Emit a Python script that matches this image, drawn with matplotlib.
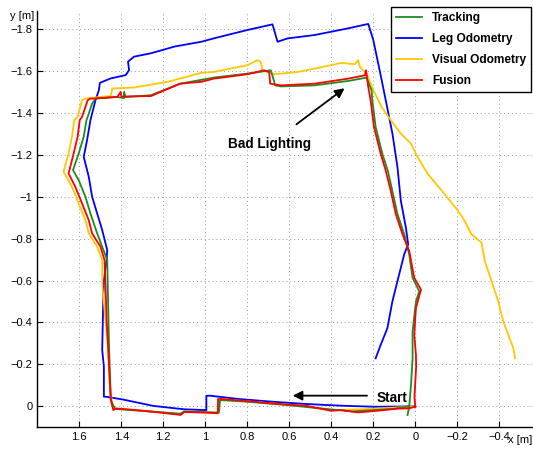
import matplotlib
matplotlib.use("Agg")
import matplotlib.pyplot as plt

plt.rcParams['font.family'] = ['Liberation Sans', 'DejaVu Sans']

# trajectories (x, y in metres)
fusion_x = [0.0, 0.029, 0.086, 0.181, 0.274, 0.354, 0.402, 0.516, 0.679, 0.809, 0.922, 0.939, 0.941, 1.004, 1.101,
            1.117, 1.247, 1.329, 1.426, 1.438, 1.45, 1.462, 1.47, 1.475, 1.48, 1.499, 1.539, 1.555, 1.587, 1.619,
            1.651, 1.627, 1.608, 1.598, 1.587, 1.56, 1.55, 1.419, 1.403, 1.40, 1.259, 1.12, 1.019, 0.96, 0.8, 0.72,
            0.696, 0.691, 0.64, 0.48, 0.32, 0.24, 0.235, 0.224, 0.213, 0.197, 0.165, 0.141, 0.117, 0.093, 0.061,
            0.029, 0.005, -0.027, -0.003, 0.005, -0.003, -0.004, 0.004, 0.0]
fusion_y = [0.0, 0.010, 0.011, 0.021, 0.029, 0.018, 0.021, -0.002, -0.014, -0.026, -0.035, -0.035, 0.033, 0.030,
            0.027, 0.041, 0.026, 0.018, 0.010, 0.018, -0.03, -0.269, -0.41, -0.57, -0.698, -0.761, -0.825, -0.888,
            -0.968, -1.047, -1.111, -1.206, -1.286, -1.365, -1.381, -1.46, -1.467, -1.476, -1.50, -1.478, -1.48,
            -1.539, -1.548, -1.563, -1.584, -1.603, -1.595, -1.539, -1.531, -1.539, -1.563, -1.579, -1.603, -1.523,
            -1.461, -1.333, -1.205, -1.125, -1.029, -0.917, -0.821, -0.741, -0.613, -0.557, -0.469, -0.341, -0.245,
            -0.19, -0.046, 0.005]

tracking_x = [0.03, 0.1, 0.3, 0.45, 0.6, 0.8, 0.93, 0.935, 1.1, 1.12, 1.3, 1.43, 1.45, 1.458, 1.462, 1.467, 1.491,
              1.515, 1.547, 1.571, 1.603, 1.63, 1.603, 1.579, 1.566, 1.56, 1.539, 1.523, 1.419, 1.387, 1.387, 1.38,
              1.259, 1.12, 0.96, 0.8, 0.688, 0.667, 0.64, 0.48, 0.32, 0.232, 0.208, 0.205, 0.189, 0.157, 0.13,
              0.11, 0.085, 0.053, 0.029, 0.013, -0.019, -0.003, 0.013, 0.013, 0.02, 0.029, 0.037]
tracking_y = [0.0, 0.012, 0.024, 0.01, -0.005, -0.022, -0.03, 0.03, 0.024, 0.035, 0.022, 0.012, -0.03, -0.27,
              -0.45, -0.698, -0.761, -0.825, -0.92, -1.0, -1.079, -1.127, -1.206, -1.286, -1.365, -1.381, -1.444,
              -1.468, -1.476, -1.47, -1.50, -1.475, -1.484, -1.539, -1.568, -1.587, -1.603, -1.531, -1.526, -1.531,
              -1.552, -1.568, -1.507, -1.461, -1.333, -1.205, -1.12, -1.03, -0.917, -0.821, -0.725, -0.613, -0.549,
              -0.5, -0.357, -0.229, -0.11, 0.002, 0.041]

visual_x = [0.0, 0.2, 0.4, 0.52, 0.7, 0.85, 0.93, 0.94, 1.1, 1.12, 1.3, 1.44, 1.455, 1.465, 1.49, 1.491, 1.515,
            1.555, 1.571, 1.603, 1.635, 1.675, 1.651, 1.635, 1.624, 1.608, 1.587, 1.571, 1.499, 1.45, 1.443, 1.339,
            1.179, 1.019, 0.96, 0.8, 0.752, 0.736, 0.728, 0.672, 0.56, 0.48, 0.352, 0.288, 0.272, 0.264, 0.232,
            0.192, 0.16, 0.117, 0.069, 0.021, -0.011, -0.059, -0.099, -0.139, -0.203, -0.235, -0.267, -0.315,
            -0.331, -0.363, -0.395, -0.419, -0.443, -0.467, -0.475]
visual_y = [0.0, 0.012, 0.018, 0.0, -0.015, -0.028, -0.035, 0.03, 0.026, 0.038, 0.02, 0.01, -0.1, -0.3, -0.57,
            -0.698, -0.761, -0.825, -0.888, -0.968, -1.047, -1.119, -1.206, -1.286, -1.365, -1.381, -1.46, -1.468,
            -1.476, -1.48, -1.516, -1.521, -1.548, -1.591, -1.595, -1.627, -1.651, -1.643, -1.603, -1.584, -1.595,
            -1.611, -1.638, -1.632, -1.651, -1.619, -1.587, -1.491, -1.427, -1.365, -1.301, -1.253, -1.189, -1.109,
            -1.061, -1.013, -0.933, -0.885, -0.821, -0.781, -0.693, -0.597, -0.501, -0.405, -0.341, -0.277, -0.229]

leg_x = [0.0, 0.191, 0.35, 0.516, 0.679, 0.841, 0.979, 0.995, 0.995, 1.101, 1.247, 1.394, 1.475, 1.483, 1.483,
         1.491, 1.486, 1.483, 1.47, 1.467, 1.491, 1.515, 1.539, 1.555, 1.579, 1.563, 1.547, 1.523, 1.507, 1.502,
         1.451, 1.379, 1.363, 1.368, 1.339, 1.259, 1.147, 1.019, 0.96, 0.8, 0.68, 0.656, 0.608, 0.48, 0.32, 0.224,
         0.2, 0.16, 0.141, 0.109, 0.085, 0.069, 0.045, 0.034, 0.053, 0.077, 0.109, 0.133, 0.165, 0.189]
leg_y = [0.0, 0.002, -0.003, -0.011, -0.022, -0.035, -0.051, -0.05, 0.018, 0.014, -0.002, -0.033, -0.046, -0.046,
         -0.19, -0.269, -0.508, -0.6, -0.698, -0.745, -0.841, -0.92, -1.0, -1.095, -1.19, -1.27, -1.365, -1.46,
         -1.508, -1.543, -1.564, -1.58, -1.604, -1.644, -1.668, -1.684, -1.716, -1.739, -1.755, -1.795, -1.822,
         -1.739, -1.755, -1.771, -1.803, -1.824, -1.747, -1.555, -1.461, -1.301, -1.141, -0.981, -0.853, -0.773,
         -0.725, -0.629, -0.501, -0.373, -0.293, -0.229]

xticks = [1.6, 1.4, 1.2, 1.0, 0.8, 0.6, 0.4, 0.2, 0.0, -0.2, -0.4]
yticks = [-1.8, -1.6, -1.4, -1.2, -1.0, -0.8, -0.6, -0.4, -0.2, 0.0]


def fmt(v):
    s = '%g' % round(v, 2)
    return s.replace('-', '\u2212')


fig = plt.figure(figsize=(5.33, 4.49), dpi=100)
ax = fig.add_axes([0.070, 0.0483, 0.9456, 0.9278])

l_leg, = ax.plot(leg_x, leg_y, color='#0000ff', lw=1.3, label='Leg Odometry')
l_vis, = ax.plot(visual_x, visual_y, color='#ffc800', lw=1.3, label='Visual Odometry')
l_trk, = ax.plot(tracking_x, tracking_y, color='#1e8c1e', lw=1.3, label='Tracking')
l_fus, = ax.plot(fusion_x, fusion_y, color='#ff0000', lw=1.3, label='Fusion')

ax.set_xlim(1.8, -0.6)
ax.set_ylim(0.1, -1.887)
ax.set_xticks(xticks)
ax.set_xticklabels([fmt(v) for v in xticks])
ax.set_yticks(yticks)
ax.set_yticklabels([fmt(v) for v in yticks])
ax.tick_params(direction='in', length=4, labelsize=8, width=0.8)
ax.grid(True, color='#999999', linestyle=(0, (1, 3)), lw=0.7)
for s in ['top', 'right']:
    ax.spines[s].set_visible(False)
for s in ['left', 'bottom']:
    ax.spines[s].set_linewidth(1.0)

ax.annotate('Bad Lighting', xy=(0.337, -1.517), xytext=(0.692, -1.251),
            ha='center', va='center', fontsize=9.8, fontweight='bold',
            arrowprops=dict(arrowstyle='-|>', color='black', lw=1.3, shrinkA=12, shrinkB=0,
                            mutation_scale=14))
ax.annotate('', xy=(0.584, -0.051), xytext=(0.23, -0.051),
            arrowprops=dict(arrowstyle='-|>', color='black', lw=1.3, shrinkA=0, shrinkB=0,
                            mutation_scale=14))
ax.text(0.113, -0.042, 'Start', ha='center', va='center', fontsize=9.8, fontweight='bold')

fig.text(22 / 533, 1 - 16 / 449, 'y [m]', ha='center', va='center', fontsize=8)
fig.text(532 / 533, 1 - 440 / 449, 'x [m]', ha='right', va='center', fontsize=8)

leg = ax.legend(handles=[l_trk, l_leg, l_vis, l_fus], loc='upper right',
                bbox_to_anchor=(530.7 / 533, 1 - 7.3 / 449), bbox_transform=fig.transFigure,
                prop={'weight': 'bold', 'size': 8.6}, fancybox=False, framealpha=1,
                handlelength=2.2, borderaxespad=0, labelspacing=0.75)
leg.get_frame().set_edgecolor('black')
leg.get_frame().set_linewidth(1.0)

fig.savefig('out.png', dpi=100)
